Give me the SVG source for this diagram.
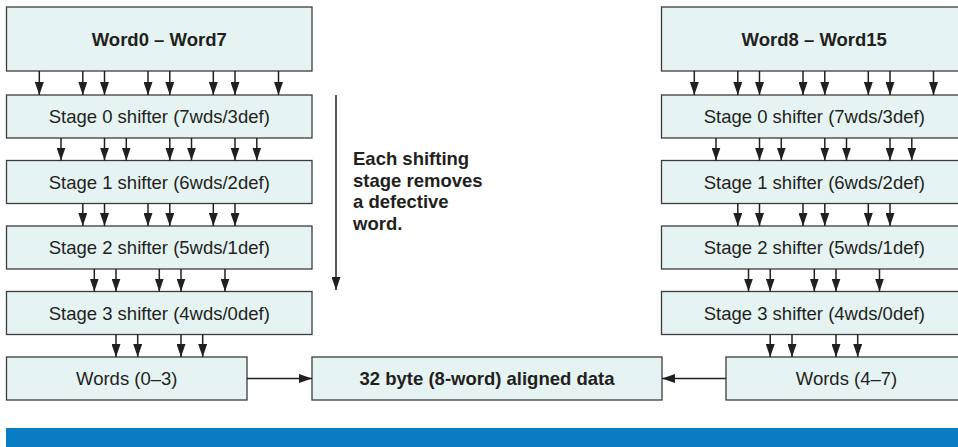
<svg xmlns="http://www.w3.org/2000/svg" width="958" height="447" viewBox="0 0 958 447">
  <style>
    .box { fill: #e5f3f3; stroke: #3c3c3c; stroke-width: 1.3; }
    .lbl { font-family: "Liberation Sans", Arial, sans-serif; font-size: 18.5px; fill: #231f20; text-anchor: middle; }
    .bold { font-weight: bold; }
    .note { font-family: "Liberation Sans", Arial, sans-serif; font-size: 18.5px; font-weight: bold; fill: #231f20; }
    .wire { stroke: #231f20; stroke-width: 1.5; fill: none; marker-end: url(#head); }
  </style>
  <defs>
    <marker id="head" markerUnits="userSpaceOnUse" markerWidth="14" markerHeight="9" refX="13" refY="4.5" orient="auto">
      <path d="M0,0 L13,4.5 L0,9 z" fill="#231f20"/>
    </marker>
  </defs>

  <rect width="958" height="447" fill="#ffffff"/>

  <!-- left column -->
  <g id="word0-7">
    <rect class="box" x="6.5" y="7" width="305.5" height="64"/>
    <text class="lbl bold" x="159.25" y="45.5">Word0 – Word7</text>
  </g>
  <g id="left-stage0">
    <rect class="box" x="6.5" y="95" width="305.5" height="43"/>
    <text class="lbl" x="159.25" y="123">Stage 0 shifter (7wds/3def)</text>
  </g>
  <g id="left-stage1">
    <rect class="box" x="6.5" y="160.5" width="305.5" height="43"/>
    <text class="lbl" x="159.25" y="188.5">Stage 1 shifter (6wds/2def)</text>
  </g>
  <g id="left-stage2">
    <rect class="box" x="6.5" y="226" width="305.5" height="43"/>
    <text class="lbl" x="159.25" y="254">Stage 2 shifter (5wds/1def)</text>
  </g>
  <g id="left-stage3">
    <rect class="box" x="6.5" y="291.5" width="305.5" height="43"/>
    <text class="lbl" x="159.25" y="319.5">Stage 3 shifter (4wds/0def)</text>
  </g>
  <g id="words0-3">
    <rect class="box" x="6.5" y="357" width="240.5" height="43"/>
    <text class="lbl" x="126.75" y="385">Words (0–3)</text>
  </g>

  <!-- centre -->
  <g id="aligned-data">
    <rect class="box" x="312" y="357" width="350" height="43"/>
    <text class="lbl bold" x="487" y="385">32 byte (8-word) aligned data</text>
  </g>
  <g id="stage-note">
    <text class="note" x="353" y="165">Each shifting</text>
    <text class="note" x="353" y="186.7">stage removes</text>
    <text class="note" x="353" y="208.3">a defective</text>
    <text class="note" x="353" y="230">word.</text>
  </g>

  <!-- right column -->
  <g id="word8-15">
    <rect class="box" x="661.5" y="7" width="305.5" height="64"/>
    <text class="lbl bold" x="814.25" y="45.5">Word8 – Word15</text>
  </g>
  <g id="right-stage0">
    <rect class="box" x="661.5" y="95" width="305.5" height="43"/>
    <text class="lbl" x="814.25" y="123">Stage 0 shifter (7wds/3def)</text>
  </g>
  <g id="right-stage1">
    <rect class="box" x="661.5" y="160.5" width="305.5" height="43"/>
    <text class="lbl" x="814.25" y="188.5">Stage 1 shifter (6wds/2def)</text>
  </g>
  <g id="right-stage2">
    <rect class="box" x="661.5" y="226" width="305.5" height="43"/>
    <text class="lbl" x="814.25" y="254">Stage 2 shifter (5wds/1def)</text>
  </g>
  <g id="right-stage3">
    <rect class="box" x="661.5" y="291.5" width="305.5" height="43"/>
    <text class="lbl" x="814.25" y="319.5">Stage 3 shifter (4wds/0def)</text>
  </g>
  <g id="words4-7">
    <rect class="box" x="726" y="357" width="241" height="43"/>
    <text class="lbl" x="846.5" y="385">Words (4–7)</text>
  </g>

  <!-- connectors -->
  <g id="connectors">
    <!-- left: Word0–Word7 to stage 0 -->
    <path class="wire" d="M39.3,71 V95"/>
    <path class="wire" d="M82.8,71 V95"/>
    <path class="wire" d="M104.5,71 V95"/>
    <path class="wire" d="M148,71 V95"/>
    <path class="wire" d="M169.8,71 V95"/>
    <path class="wire" d="M213.3,71 V95"/>
    <path class="wire" d="M235,71 V95"/>
    <path class="wire" d="M278.5,71 V95"/>
    <!-- left: stage 0 to stage 1 -->
    <path class="wire" d="M61,138 V160.5"/>
    <path class="wire" d="M104.5,138 V160.5"/>
    <path class="wire" d="M126.3,138 V160.5"/>
    <path class="wire" d="M169.8,138 V160.5"/>
    <path class="wire" d="M191.5,138 V160.5"/>
    <path class="wire" d="M235,138 V160.5"/>
    <path class="wire" d="M256.8,138 V160.5"/>
    <!-- left: stage 1 to stage 2 -->
    <path class="wire" d="M82.8,203.5 V226"/>
    <path class="wire" d="M104.5,203.5 V226"/>
    <path class="wire" d="M148,203.5 V226"/>
    <path class="wire" d="M169.8,203.5 V226"/>
    <path class="wire" d="M213.3,203.5 V226"/>
    <path class="wire" d="M235,203.5 V226"/>
    <!-- left: stage 2 to stage 3 -->
    <path class="wire" d="M94.3,269 V291.5"/>
    <path class="wire" d="M116,269 V291.5"/>
    <path class="wire" d="M159.3,269 V291.5"/>
    <path class="wire" d="M181,269 V291.5"/>
    <path class="wire" d="M225,269 V291.5"/>
    <!-- left: stage 3 to words -->
    <path class="wire" d="M116,334.5 V357"/>
    <path class="wire" d="M137.7,334.5 V357"/>
    <path class="wire" d="M181,334.5 V357"/>
    <path class="wire" d="M202.7,334.5 V357"/>

    <!-- right: Word8–Word15 to stage 0 -->
    <path class="wire" d="M694.3,71 V95"/>
    <path class="wire" d="M737.8,71 V95"/>
    <path class="wire" d="M759.5,71 V95"/>
    <path class="wire" d="M803,71 V95"/>
    <path class="wire" d="M824.8,71 V95"/>
    <path class="wire" d="M868.3,71 V95"/>
    <path class="wire" d="M890,71 V95"/>
    <path class="wire" d="M933.5,71 V95"/>
    <!-- right: stage 0 to stage 1 -->
    <path class="wire" d="M716,138 V160.5"/>
    <path class="wire" d="M759.5,138 V160.5"/>
    <path class="wire" d="M781.3,138 V160.5"/>
    <path class="wire" d="M824.8,138 V160.5"/>
    <path class="wire" d="M846.5,138 V160.5"/>
    <path class="wire" d="M890,138 V160.5"/>
    <path class="wire" d="M911.8,138 V160.5"/>
    <!-- right: stage 1 to stage 2 -->
    <path class="wire" d="M737.8,203.5 V226"/>
    <path class="wire" d="M759.5,203.5 V226"/>
    <path class="wire" d="M803,203.5 V226"/>
    <path class="wire" d="M824.8,203.5 V226"/>
    <path class="wire" d="M868.3,203.5 V226"/>
    <path class="wire" d="M890,203.5 V226"/>
    <!-- right: stage 2 to stage 3 -->
    <path class="wire" d="M748.5,269 V291.5"/>
    <path class="wire" d="M770.2,269 V291.5"/>
    <path class="wire" d="M814.3,269 V291.5"/>
    <path class="wire" d="M836,269 V291.5"/>
    <path class="wire" d="M879.5,269 V291.5"/>
    <!-- right: stage 3 to words -->
    <path class="wire" d="M770.2,334.5 V357"/>
    <path class="wire" d="M792,334.5 V357"/>
    <path class="wire" d="M836,334.5 V357"/>
    <path class="wire" d="M857.7,334.5 V357"/>

    <!-- word halves into the aligned block -->
    <path class="wire" d="M247,378.5 H312"/>
    <path class="wire" d="M726,378.5 H662"/>

    <!-- stage progression -->
    <path class="wire" d="M336,95 V290"/>
  </g>

  <!-- footer band -->
  <rect x="6" y="428" width="952" height="19" fill="#0a7cc3"/>
</svg>
